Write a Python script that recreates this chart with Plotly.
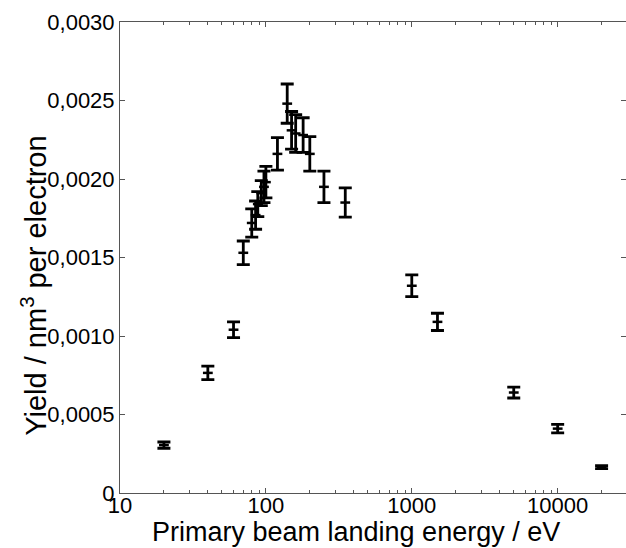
import plotly.graph_objects as go
import math

energy = [20, 40, 60, 70, 80, 85, 88, 93, 97, 100, 120, 140, 150, 160, 180, 200, 250, 350,
          1000, 1500, 5000, 10000, 20000]
yield_vals = [0.000305, 0.000765, 0.00104, 0.00153, 0.00172, 0.00177, 0.00184, 0.00191, 0.00195,
              0.00198, 0.00216, 0.00248, 0.00231, 0.00229, 0.00228, 0.00216, 0.00195, 0.00185,
              0.00132, 0.00109, 0.00064, 0.00041, 0.000165]
yield_err = [0.00002, 0.000043, 0.00005, 0.000075, 0.00009, 0.00009, 0.00008, 0.00008, 0.0001,
             0.0001, 0.000104, 0.000125, 0.00012, 0.00012, 0.00011, 0.00011, 0.0001, 0.000093,
             0.000069, 0.000055, 0.000035, 0.000027, 0.00001]

x_tickvals = [10, 100, 1000, 10000]
x_ticktext = ["10", "100", "1000", "10000"]
x_minor = [m * d for d in (10, 100, 1000, 10000) for m in range(2, 10)]
y_tickvals = [0, 0.0005, 0.0010, 0.0015, 0.0020, 0.0025, 0.0030]
y_ticktext = ["0", "0,0005", "0,0010", "0,0015", "0,0020", "0,0025", "0,0030"]

fig = go.Figure()
fig.add_trace(go.Scatter(
    x=energy, y=yield_vals, mode="markers",
    marker=dict(symbol="line-ew", size=7, color="black", line=dict(width=2.5, color="black")),
    error_y=dict(type="data", array=yield_err, color="black", thickness=2.8, width=6.5),
    showlegend=False,
))

font_family = "Liberation Sans, Arial, sans-serif"
axis_color = "#555555"

fig.update_xaxes(
    type="log", range=[1, math.log10(29400)],
    tickvals=x_tickvals, ticktext=x_ticktext,
    ticks="inside", ticklen=5, tickcolor=axis_color, tickwidth=1,
    minor=dict(tickvals=x_minor, ticks="inside", ticklen=3, tickcolor=axis_color, showgrid=False),
    showline=True, linecolor=axis_color, linewidth=1, mirror="ticks",
    showgrid=False, zeroline=False,
    tickfont=dict(family=font_family, size=22, color="black"),
    ticklabelstandoff=-7,
)
fig.update_yaxes(
    range=[0, 0.003],
    tickvals=y_tickvals, ticktext=y_ticktext,
    ticks="inside", ticklen=5, tickcolor=axis_color, tickwidth=1,
    showline=True, linecolor=axis_color, linewidth=1, mirror="ticks",
    showgrid=False, zeroline=False,
    tickfont=dict(family=font_family, size=22, color="black"),
)

fig.add_annotation(
    text="Yield / nm<sup>3</sup> per electron", textangle=-90,
    xref="paper", yref="paper", x=-0.17, y=0.44, xanchor="center", yanchor="middle",
    showarrow=False, font=dict(family=font_family, size=29, color="black"),
)
fig.add_annotation(
    text="Primary beam landing energy / eV",
    xref="paper", yref="paper", x=0.466, y=-0.083, xanchor="center", yanchor="middle",
    showarrow=False, font=dict(family=font_family, size=27, color="black"),
)

fig.update_layout(
    width=626, height=548,
    margin=dict(l=120, r=0, t=22, b=55),
    paper_bgcolor="white", plot_bgcolor="white",
)

fig.write_html("out.html")
